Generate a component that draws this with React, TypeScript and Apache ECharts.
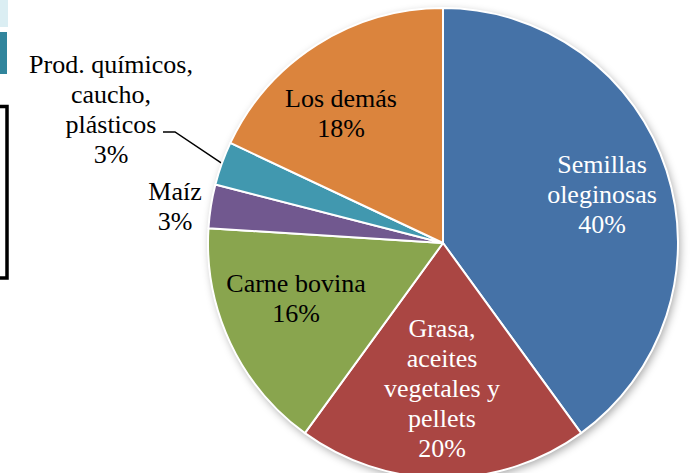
import React, { useEffect, useRef } from "react";
import * as echarts from "echarts";

const categories = [
  "Semillas\noleginosas",
  "Grasa,\naceites\nvegetales y\npellets",
  "Carne bovina",
  "Maíz",
  "Prod. químicos,\ncaucho,\nplásticos",
  "Los demás",
];
const shares = [40, 20, 16, 3, 3, 18];
const colors = ["#4572A7", "#AA4643", "#89A54E", "#71588F", "#4198AF", "#DB843D"];
const labelColors = ["#ffffff", "#ffffff", "#000000", "#000000", "#000000", "#000000"];
const outside = [false, false, false, true, true, false];

// label anchor positions (centre of each label block), in pixels
const labelPos: [number, number][] = [
  [602, 194],
  [442, 388],
  [296, 298],
  [175, 206],
  [111, 109],
  [341, 113],
];

const CX = 443;
const CY = 243;
const R = 235;
const FONT = "Liberation Serif";

export default function App() {
  const ref = useRef<HTMLDivElement>(null);
  useEffect(() => {
    if (!ref.current) return;
    const chart = echarts.init(ref.current, null, { renderer: "svg" });
    const data = categories.map((name, i) => ({
      name,
      value: shares[i],
      itemStyle: { color: colors[i] },
      label: {
        position: outside[i] ? "outside" : "inside",
        color: labelColors[i],
      },
      labelLine: {
        show: i === 4,
        lineStyle: { color: "#000", width: 1.5 },
      },
    }));
    chart.setOption({
      animation: false,
      backgroundColor: "#ffffff",
      graphic: [
        { type: "rect", shape: { x: 0, y: 0, width: 8, height: 27 }, style: { fill: "#dbeef3" } },
        { type: "rect", shape: { x: 0, y: 32, width: 7, height: 42 }, style: { fill: "#31859c" } },
        {
          type: "polyline",
          shape: { points: [[0, 106.5], [7, 106.5], [7, 278], [0, 278]] },
          style: { stroke: "#000", lineWidth: 3.5, fill: null },
        },
      ],
      series: [
        {
          type: "pie",
          silent: true,
          center: [CX, CY],
          radius: R,
          label: { show: false },
          labelLine: { show: false },
          itemStyle: {
            color: "#ffffff",
            shadowBlur: 8,
            shadowColor: "rgba(0,0,0,0.35)",
            shadowOffsetX: 2,
            shadowOffsetY: 3,
          },
          data: [{ value: 1, name: "" }],
          z: 1,
        },
        {
          type: "pie",
          center: [CX, CY],
          radius: R,
          startAngle: 90,
          clockwise: true,
          z: 2,
          itemStyle: { borderColor: "#ffffff", borderWidth: 2 },
          label: {
            show: true,
            fontFamily: FONT,
            fontSize: 26,
            lineHeight: 30,
            align: "center",
            overflow: "none",
            formatter: (p: any) => `${p.name}\n${Math.round(p.percent)}%`,
          },
          labelLayout: (p: any) => {
            const i = p.dataIndex;
            const pos = labelPos[i];
            const res: any = {
              x: pos[0],
              y: pos[1],
              align: "center",
              verticalAlign: "middle",
            };
            if (i === 4) {
              const mid = ((284.4 + 295.2) / 2) * Math.PI / 180;
              const ex = CX + R * Math.sin(mid);
              const ey = CY - R * Math.cos(mid);
              res.labelLinePoints = [
                [163, 132],
                [175, 132],
                [ex, ey],
              ];
            }
            return res;
          },
          data,
        },
      ],
    });
    return () => chart.dispose();
  }, []);
  return (
    <div
      ref={ref}
      style={{ position: "absolute", left: 0, top: 0, width: 700, height: 473 }}
    />
  );
}
